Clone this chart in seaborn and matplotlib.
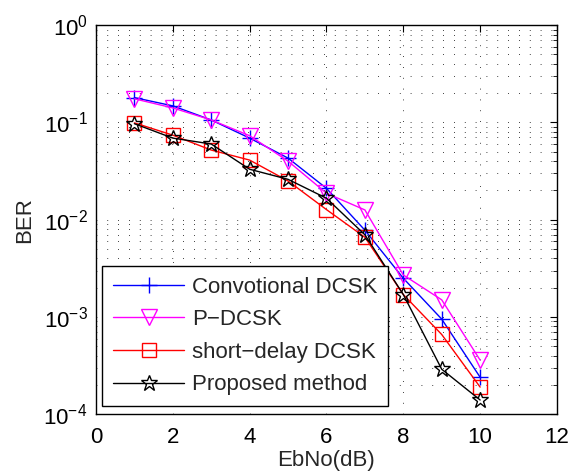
import numpy as np
import pandas as pd
import matplotlib
matplotlib.use("Agg")
import matplotlib.pyplot as plt
import seaborn as sns

# data
ebno = [1, 2, 3, 4, 5, 6, 7, 8, 9, 10]
ber_conv = [0.18, 0.148, 0.106, 0.069, 0.043, 0.021, 0.0078, 0.0025, 0.00095, 0.00024]
ber_pdcsk = [0.175, 0.141, 0.106, 0.073, 0.040, 0.0187, 0.0126, 0.0027, 0.0015, 0.00036]
ber_short = [0.099, 0.074, 0.052, 0.041, 0.025, 0.0127, 0.0066, 0.0017, 0.00066, 0.00019]
ber_prop = [0.097, 0.069, 0.060, 0.033, 0.026, 0.0166, 0.0070, 0.0017, 0.00029, 0.00014]

names = ['Convotional DCSK', 'P\u2212DCSK', 'short\u2212delay DCSK', 'Proposed method']
colors = ['#0000ff', '#ff00ff', '#ff0000', '#000000']
markers = ['+', 'v', 's', '*']
sizes = [12, 11, 10, 12]

sns.set_style("white")
plt.rcParams['font.family'] = ['Liberation Sans', 'DejaVu Sans']
plt.rcParams['mathtext.fontset'] = 'custom'
plt.rcParams['mathtext.rm'] = 'Liberation Sans'

fig = plt.figure(figsize=(5.73, 4.75), dpi=100)
ax = fig.add_axes([0.1675, 0.128, 0.8045, 0.819])

series = [ber_conv, ber_pdcsk, ber_short, ber_prop]
for vals, name, c, m, s in zip(series, names, colors, markers, sizes):
    df = pd.DataFrame({'EbNo': ebno, 'BER': vals})
    sns.lineplot(data=df, x='EbNo', y='BER', ax=ax, color=c, marker=m,
                 markersize=s, markerfacecolor='none', markeredgecolor=c,
                 markeredgewidth=1.0, linewidth=1.0, label=name)

ax.set_yscale('log')
ax.set_xlim(0, 12)
ax.set_ylim(1e-4, 1)
ax.set_xticks([0, 2, 4, 6, 8, 10, 12])
ax.set_yticks([1e-4, 1e-3, 1e-2, 1e-1, 1])

ax.grid(True, which='major', color='black', linestyle=(0, (1, 12)), linewidth=0.6)
ax.grid(True, which='minor', axis='y', color='black', linestyle=(0, (1, 12)), linewidth=0.6)

ax.tick_params(which='both', direction='in', top=True, right=True, labelsize=16, colors='black')
ax.tick_params(which='major', length=5)
ax.tick_params(which='minor', length=3)
ax.tick_params(axis='x', pad=9)
ax.tick_params(axis='y', pad=6)
for sp in ax.spines.values():
    sp.set_color('black')
    sp.set_linewidth(1.0)

ax.set_xlabel('EbNo(dB)', fontsize=16, labelpad=2)
ax.set_ylabel('BER', fontsize=16, labelpad=6)

leg = ax.legend(loc='lower left', bbox_to_anchor=(0.013, 0.02), borderaxespad=0,
                fontsize=16, frameon=True, fancybox=False, edgecolor='black',
                framealpha=1, handlelength=3.2, borderpad=0.5, labelspacing=0.52,
                handletextpad=0.35)
leg.get_frame().set_linewidth(1.0)

fig.savefig('out.png', dpi=100)
